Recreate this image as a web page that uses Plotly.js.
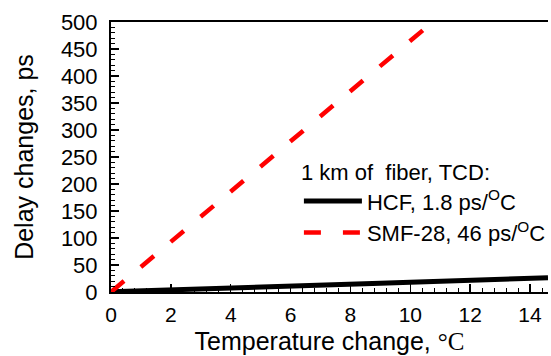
<!DOCTYPE html>
<html>
<head>
<meta charset="utf-8">
<script src="https://cdn.plot.ly/plotly-3.0.1.min.js"></script>
<style>html,body{margin:0;padding:0;background:#fff;}#chart{width:551px;height:356px;}</style>
</head>
<body>
<div id="chart"></div>
<script>
// HCF measured delay change (ps) vs temperature change (°C)
const hcfTemp  = [0, 1, 2, 3, 4, 5, 6, 7, 8, 9, 10, 11, 12, 12.8, 13.2, 14, 14.6];
const hcfDelay = [0.5, 2, 3.5, 5.5, 7, 9, 10.5, 12.5, 14.5, 16, 18, 19.5, 21.5, 23, 24.5, 25.5, 26.5];
// SMF-28 delay change (ps) vs temperature change (°C)
const smfTemp  = [0, 10.75];
const smfDelay = [0, 500];
// axis ticks
const xTicks = [0, 2, 4, 6, 8, 10, 12, 14];
const yTicks = [0, 50, 100, 150, 200, 250, 300, 350, 400, 450, 500];

const traces = [
  {x: hcfTemp, y: hcfDelay, mode: 'lines', name: 'HCF, 1.8 ps/<sup>O</sup>C',
   line: {color: '#000000', width: 5}},
  {x: smfTemp, y: smfDelay, mode: 'lines', name: 'SMF-28, 46 ps/<sup>O</sup>C',
   line: {color: '#ff0000', width: 4.5, dash: '17px,22px'}}
];

const layout = {
  width: 551, height: 356,
  margin: {l: 111, r: 0, t: 22, b: 64},
  paper_bgcolor: '#ffffff', plot_bgcolor: '#ffffff',
  font: {family: 'Liberation Sans, Arial, sans-serif', color: '#000000'},
  showlegend: true,
  legend: {
    x: 0.43, y: 0.52, xanchor: 'left', yanchor: 'top',
    bgcolor: 'rgba(0,0,0,0)', font: {size: 22},
    title: {text: '1 km of\u00a0\u00a0fiber, TCD:', font: {size: 22}},
    itemwidth: 58
  },
  xaxis: {
    range: [0, 14.6], tickvals: xTicks, ticktext: xTicks.map(String),
    ticks: 'inside', ticklen: 8, tickwidth: 1.5, tickcolor: '#000',
    minor: {dtick: 0.4, tick0: 0, ticks: 'inside', ticklen: 4, tickwidth: 1, tickcolor: '#000'},
    showline: true, linewidth: 2, linecolor: '#000', mirror: true,
    showgrid: false, zeroline: false,
    tickfont: {size: 21}, ticklabelstandoff: 3,
    title: {text: 'Temperature change, <span style="font-family:\'Liberation Serif\',serif">°C</span>',
            font: {size: 25}, standoff: 7}
  },
  yaxis: {
    range: [0, 500], tickvals: yTicks, ticktext: yTicks.map(String),
    ticks: 'inside', ticklen: 8, tickwidth: 1.5, tickcolor: '#000',
    minor: {dtick: 10, tick0: 0, ticks: 'inside', ticklen: 4, tickwidth: 1, tickcolor: '#000'},
    showline: true, linewidth: 2, linecolor: '#000',
    showgrid: false, zeroline: false,
    tickfont: {size: 22}, ticklabelstandoff: 7,
    title: {text: 'Delay changes, ps', font: {size: 25}, standoff: 20}
  }
};

Plotly.newPlot('chart', traces, layout, {displayModeBar: false, staticPlot: true});
</script>
</body>
</html>
